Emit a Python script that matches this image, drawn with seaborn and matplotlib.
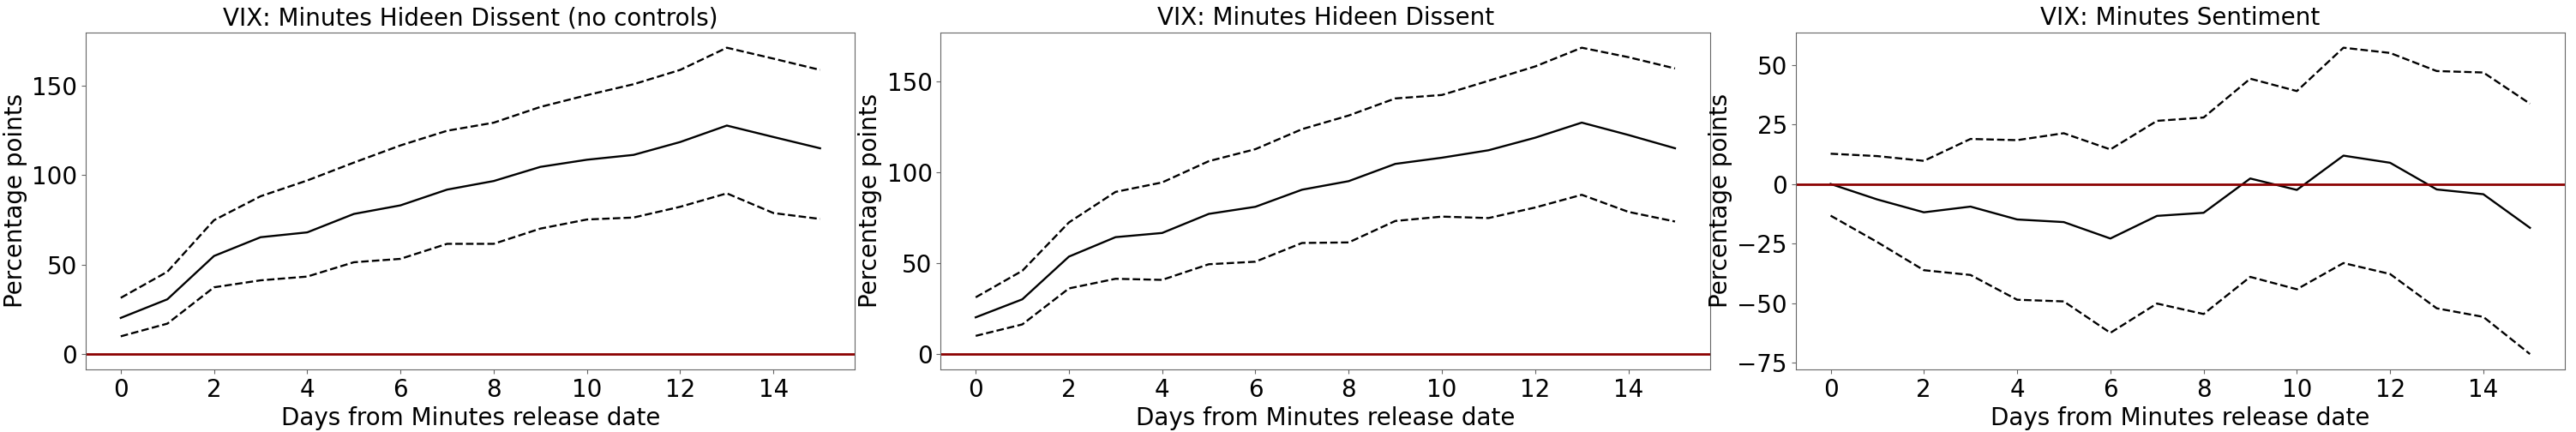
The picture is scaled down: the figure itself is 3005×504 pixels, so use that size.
import matplotlib
matplotlib.use("Agg")
import matplotlib.pyplot as plt
import seaborn as sns
import pandas as pd

days = list(range(16))

# VIX: Minutes Hideen Dissent (no controls)
nc_mean = [20.2, 30.6, 54.8, 65.3, 68.0, 78.3, 83.1, 91.9, 96.7, 104.6, 108.6, 111.3, 118.5, 127.7, 121.3, 115.0]
nc_upper = [31.4, 46.0, 74.8, 88.2, 97.0, 107.0, 116.6, 124.8, 129.3, 138.1, 144.7, 150.8, 158.8, 171.2, 165.1, 158.8]
nc_lower = [9.9, 17.0, 37.3, 41.2, 43.3, 51.3, 53.2, 61.6, 61.6, 70.1, 75.2, 76.3, 82.3, 89.8, 78.8, 75.5]

# VIX: Minutes Hideen Dissent
hd_mean = [20.2, 30.1, 53.6, 64.3, 66.6, 77.1, 81.0, 90.4, 95.1, 104.6, 108.0, 112.1, 119.0, 127.3, 120.5, 113.2]
hd_upper = [31.2, 45.8, 72.4, 89.2, 94.4, 106.1, 112.7, 123.7, 131.2, 140.6, 142.5, 150.3, 158.2, 168.5, 163.3, 157.1]
hd_lower = [10.0, 16.3, 36.1, 41.4, 40.8, 49.4, 50.8, 61.1, 61.4, 73.2, 75.6, 74.8, 80.6, 87.6, 78.2, 72.9]

# VIX: Minutes Sentiment
se_mean = [0.0, -6.5, -11.9, -9.5, -14.9, -16.0, -22.9, -13.4, -12.1, 2.3, -2.5, 11.9, 8.9, -2.3, -4.3, -18.4]
se_upper = [12.7, 11.7, 9.7, 18.9, 18.4, 21.3, 14.5, 26.5, 27.9, 44.2, 39.0, 57.2, 55.0, 47.4, 46.8, 33.7]
se_lower = [-13.3, -24.4, -36.2, -38.2, -48.6, -49.3, -62.5, -50.2, -54.6, -39.0, -44.2, -33.2, -37.8, -52.2, -55.8, -71.4]

titles = ["VIX: Minutes Hideen Dissent (no controls)",
          "VIX: Minutes Hideen Dissent",
          "VIX: Minutes Sentiment"]
panels = [(nc_mean, nc_upper, nc_lower),
          (hd_mean, hd_upper, hd_lower),
          (se_mean, se_upper, se_lower)]

fig, axes = plt.subplots(1, 3, figsize=(30.05, 5.04), dpi=100)
plt.subplots_adjust(left=0.0333, right=0.9957, bottom=0.145, top=0.925, wspace=0.1114)

for ax, title, (m, up, lo) in zip(axes, titles, panels):
    df = pd.DataFrame({"day": days, "mean": m, "upper": up, "lower": lo})
    sns.lineplot(x="day", y="mean", data=df, ax=ax, color="black", linewidth=1.7)
    sns.lineplot(x="day", y="upper", data=df, ax=ax, color="black", linewidth=1.7, linestyle="--")
    sns.lineplot(x="day", y="lower", data=df, ax=ax, color="black", linewidth=1.7, linestyle="--")
    ax.axhline(0, color="darkred", linewidth=2)
    ax.set_title(title, fontsize=20)
    ax.set_xlabel("Days from Minutes release date", fontsize=20)
    ax.set_ylabel("Percentage points", fontsize=20)
    ax.set_xticks(range(0, 16, 2))
    ax.tick_params(labelsize=20, color="0.4")
    for s in ax.spines.values():
        s.set_color("0.4")

fig.savefig("out.png", dpi=100)
